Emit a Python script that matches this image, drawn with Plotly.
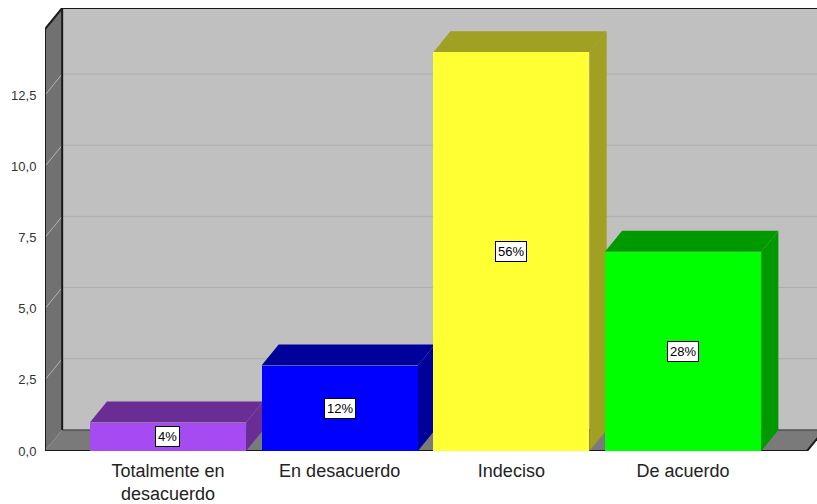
import plotly.graph_objects as go

categories = ["Totalmente en<br>desacuerdo", "En desacuerdo", "Indeciso", "De acuerdo"]
counts = [1, 3, 14, 7]
percent_labels = ["4%", "12%", "56%", "28%"]
front_colors = ["#a64bf2", "#0000ff", "#ffff33", "#00ff00"]
shade_colors = ["#6a2d94", "#00009a", "#a0a022", "#009a00"]
y_ticks = [0, 2.5, 5, 7.5, 10, 12.5]

# 3D frame geometry (in axis units)
X_MIN, X_MAX = -0.716, 3.78
FLOOR_END = 3.722
Y_TOP_FRONT = 14.82
DX, DY = 0.1, 0.74
BAR_W = 0.91
Y_MAX = Y_TOP_FRONT + DY

xs = list(range(len(categories)))


def path(pts):
    return "M " + " L ".join(f"{x},{y}" for x, y in pts) + " Z"


shapes = []
# back wall
shapes.append(dict(type="path", path=path([(X_MIN + DX, DY), (X_MAX + 1, DY), (X_MAX + 1, Y_MAX), (X_MIN + DX, Y_MAX)]),
                   fillcolor="#c0c0c0", line=dict(width=0), layer="below"))
# floor
shapes.append(dict(type="path", path=path([(X_MIN, 0), (FLOOR_END, 0), (FLOOR_END + DX, DY), (X_MIN + DX, DY)]),
                   fillcolor="#7a7a7a", line=dict(width=0), layer="below"))
# left wall
shapes.append(dict(type="path", path=path([(X_MIN, 0), (X_MIN + DX, DY), (X_MIN + DX, Y_MAX), (X_MIN, Y_TOP_FRONT)]),
                   fillcolor="#717171", line=dict(width=0), layer="below"))
# gridlines
for t in y_ticks[1:]:
    shapes.append(dict(type="line", x0=X_MIN + DX, x1=X_MAX + 1, y0=t + DY, y1=t + DY,
                       line=dict(color="#adadad", width=1), layer="below"))
    shapes.append(dict(type="line", x0=X_MIN, x1=X_MIN + DX, y0=t, y1=t + DY,
                       line=dict(color="#b4b4b4", width=1), layer="below"))
# frame outlines
edge = dict(color="#1a1a1a", width=2)
shapes.append(dict(type="line", x0=X_MIN + DX, x1=X_MIN + DX, y0=DY, y1=Y_MAX, line=edge, layer="below"))
shapes.append(dict(type="line", x0=X_MIN + DX, x1=FLOOR_END + DX, y0=DY, y1=DY, line=dict(color="#333", width=1), layer="below"))
shapes.append(dict(type="line", x0=X_MIN + DX, x1=X_MAX + 1, y0=Y_MAX, y1=Y_MAX, line=edge, layer="below"))
shapes.append(dict(type="line", x0=X_MIN, x1=X_MIN + DX, y0=Y_TOP_FRONT, y1=Y_MAX, line=edge, layer="below"))
shapes.append(dict(type="line", x0=X_MIN, x1=X_MIN, y0=0, y1=Y_TOP_FRONT, line=edge, layer="below"))
shapes.append(dict(type="line", x0=X_MIN, x1=FLOOR_END, y0=0, y1=0, line=edge, layer="below"))
shapes.append(dict(type="line", x0=FLOOR_END, x1=FLOOR_END + DX, y0=0, y1=DY, line=edge, layer="below"))

# bar top and side faces
for x, v, c in zip(xs, counts, shade_colors):
    l, r = x - BAR_W / 2, x + BAR_W / 2
    shapes.append(dict(type="path", path=path([(l, v), (l + DX, v + DY), (r + DX, v + DY), (r, v)]),
                       fillcolor=c, line=dict(width=0), layer="below"))
    shapes.append(dict(type="path", path=path([(r, 0), (r + DX, DY), (r + DX, v + DY), (r, v)]),
                       fillcolor=c, line=dict(width=0), layer="below"))

fig = go.Figure()
fig.add_trace(go.Bar(x=xs, y=counts, width=BAR_W, marker=dict(color=front_colors, line=dict(width=0)),
                     hoverinfo="skip"))

annotations = []
for x, v, t in zip(xs, counts, percent_labels):
    annotations.append(dict(x=x, y=v / 2, text=t, showarrow=False, xref="x", yref="y",
                            font=dict(family="Liberation Sans, Arial", size=13, color="#000"),
                            bgcolor="#ffffff", bordercolor="#000000", borderwidth=1, borderpad=2))

fig.update_layout(
    width=817, height=504,
    margin=dict(l=45, r=0, t=8, b=53, autoexpand=False),
    paper_bgcolor="#ffffff", plot_bgcolor="rgba(0,0,0,0)",
    separators=",.",
    showlegend=False,
    shapes=shapes,
    annotations=annotations,
    bargap=0,
    xaxis=dict(range=[X_MIN, X_MAX], tickvals=xs, ticktext=categories, showgrid=False, zeroline=False,
               showline=False, ticks="outside", ticklen=3, tickcolor="rgba(0,0,0,0)", automargin=False,
               tickfont=dict(family="Liberation Sans, Arial", size=18, color="#222")),
    yaxis=dict(range=[0, Y_MAX], tickvals=y_ticks, tickformat=".1f", showgrid=False, zeroline=False,
               showline=False, ticks="outside", ticklen=5, tickcolor="rgba(0,0,0,0)", automargin=False,
               tickfont=dict(family="Liberation Sans, Arial", size=13, color="#333")),
)

fig.write_html("out.html", config={"displayModeBar": False},
               post_script="document.body.style.margin='0';document.body.style.overflow='hidden';")
